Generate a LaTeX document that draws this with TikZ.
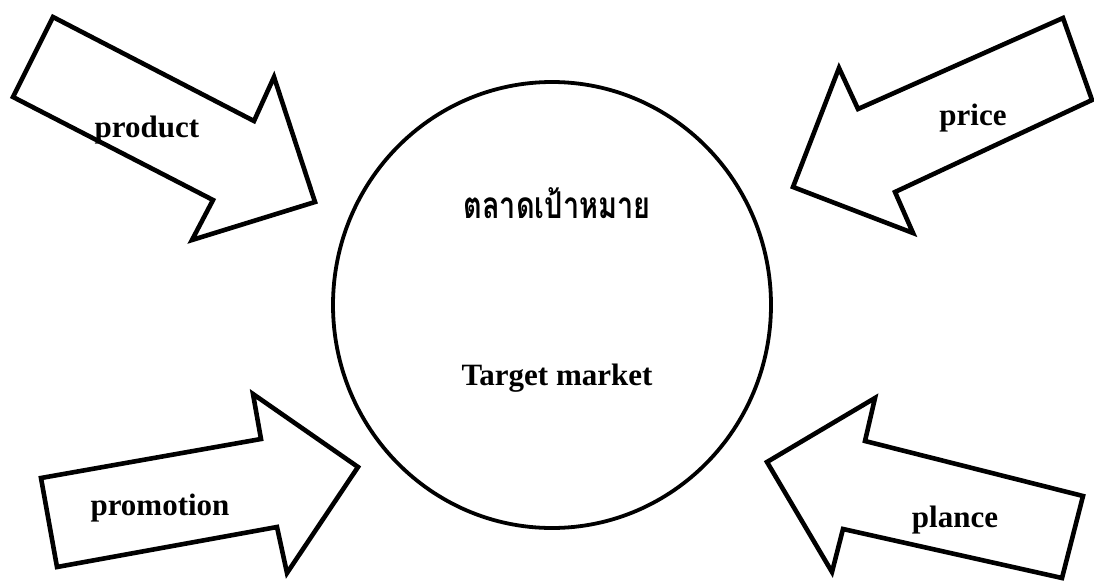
\documentclass[tikz,border=0pt]{standalone}
\usepackage{fontspec}
\setmainfont{Liberation Serif}
\newfontfamily\thaifont[Script=Thai]{Loma}
\usetikzlibrary{shapes.geometric}
\tikzset{
  arrowshape/.style={draw=black, line width=4.6pt, line join=miter, fill=white},
  lbl/.style={font=\fontsize{31}{36}\selectfont\bfseries, inner sep=0pt},
  thailbl/.style={font=\thaifont\fontsize{37}{44}\selectfont\bfseries, inner sep=0pt, xscale=0.78},
  market/.style={draw=black, line width=3.8pt, ellipse, minimum width=438pt, minimum height=446pt, inner sep=0pt}
}
\begin{document}
\begin{tikzpicture}[x=1pt,y=-1pt]
\useasboundingbox (0,0) rectangle (1094,581);
\node[market] (mkt) at (552,305) {};
% product
\draw[arrowshape] (53,17) -- (13,97) -- (213,200) -- (192,240) -- (315,202) -- (274,77) -- (254,121) -- cycle;
% price
\draw[arrowshape] (1063,18) -- (1092,100) -- (895,192) -- (913,233) -- (793,187) -- (839,68) -- (858,109) -- cycle;
% promotion
\draw[arrowshape] (41,478) -- (57,567) -- (277,527) -- (287,573) -- (358,467) -- (253,394) -- (261,439) -- cycle;
% plance
\draw[arrowshape] (1083,496) -- (1062,578) -- (843,529) -- (832,572) -- (767,462) -- (875,398) -- (865,441) -- cycle;
\node[lbl] (product) at (147,130) {product};
\node[lbl] (price) at (973,118) {price};
\node[lbl] (promotion) at (160,508) {promotion};
\node[lbl] (plance) at (955,520) {plance};
\node[thailbl] (thai) at (557,203) {ตลาดเป้าหมาย};
\node[lbl] (target) at (557,378) {Target market};
\end{tikzpicture}
\end{document}
